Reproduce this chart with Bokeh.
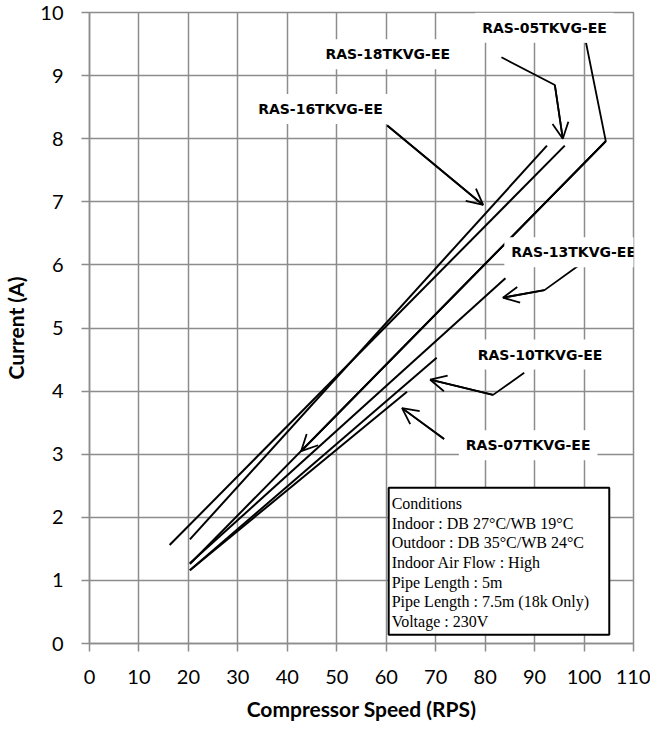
from bokeh.plotting import figure
from bokeh.models import Label, Arrow, OpenHead, BoxAnnotation, SingleIntervalTicker, Range1d
from bokeh.embed import file_html
from bokeh.resources import INLINE

# ---- data ----
models = ["RAS-18TKVG-EE", "RAS-16TKVG-EE", "RAS-05TKVG-EE",
          "RAS-13TKVG-EE", "RAS-10TKVG-EE", "RAS-07TKVG-EE"]
speed_start = [16.2, 20.3, 20.3, 20.3, 20.3, 20.3]
speed_end = [96.1, 92.5, 104.4, 84.1, 70.2, 64.2]
current_start = [1.56, 1.65, 1.26, 1.27, 1.16, 1.16]
current_end = [7.89, 7.89, 7.96, 5.79, 4.53, 3.99]

x_ticks_step = 10
y_ticks_step = 1

# label anchor points (data units) for each model name
label_x = [60.3, 46.7, 92.0, 97.9, 91.1, 88.7]
label_y = [9.34, 8.47, 9.76, 6.20, 4.58, 3.14]

# pointer polylines (data units), last segment carries the arrow head
pointer_x = [[83.3, 94.1, 95.7], [60.2, 79.6], [100.4, 104.4, 42.8],
             [98.7, 92.0, 83.6], [87.9, 81.6, 68.9], [71.7, 63.2]]
pointer_y = [[9.29, 8.85, 8.00], [8.21, 6.95], [9.52, 7.96, 3.05],
             [5.98, 5.60, 5.48], [4.29, 3.94, 4.18], [3.24, 3.73]]

conditions = ["Conditions",
              "Indoor : DB 27°C/WB 19°C",
              "Outdoor : DB 35°C/WB 24°C",
              "Indoor Air Flow : High",
              "Pipe Length : 5m",
              "Pipe Length : 7.5m (18k Only)",
              "Voltage : 230V"]

GRID = "#8c8c8c"

p = figure(width=650, height=727, x_range=Range1d(0, 110), y_range=Range1d(0, 10),
           output_backend="svg", toolbar_location=None,
           min_border_left=86, min_border_right=17, min_border_top=12, min_border_bottom=84)
p.background_fill_color = "white"
p.border_fill_color = "white"
p.outline_line_color = GRID
p.outline_line_width = 1.5

p.xaxis.ticker = SingleIntervalTicker(interval=x_ticks_step, num_minor_ticks=0)
p.yaxis.ticker = SingleIntervalTicker(interval=y_ticks_step, num_minor_ticks=0)
for ax in (p.xaxis, p.yaxis):
    ax.axis_line_color = GRID
    ax.axis_line_width = 1.5
    ax.major_tick_line_color = GRID
    ax.major_tick_line_width = 1.5
    ax.major_tick_in = 0
    ax.major_tick_out = 8
    ax.minor_tick_line_color = None
    ax.major_label_text_font = "Lato"
    ax.major_label_text_font_size = "20px"
    ax.major_label_text_color = "black"
    ax.axis_label_text_font = "Lato"
    ax.axis_label_text_font_style = "bold"
    ax.axis_label_text_font_size = "21px"
    ax.axis_label_text_color = "black"

p.xaxis.axis_label = "Compressor Speed (RPS)"
p.yaxis.axis_label = "Current (A)"
p.xaxis.major_label_standoff = 18
p.xaxis.axis_label_standoff = 9
p.yaxis.major_label_standoff = 18
p.yaxis.axis_label_standoff = 9

for g in (p.xgrid, p.ygrid):
    g.grid_line_color = GRID
    g.grid_line_width = 1.5

# data lines
for i in range(len(models)):
    p.line([speed_start[i], speed_end[i]], [current_start[i], current_end[i]],
           line_color="black", line_width=2)

# conditions box
p.add_layout(BoxAnnotation(left=60.5, right=105.1, bottom=0.14, top=2.47,
                           fill_color="white", fill_alpha=1.0,
                           line_color="black", line_width=2, line_alpha=1.0))
row_top = 2.217
row_step = 0.311
for k, t in enumerate(conditions):
    p.add_layout(Label(x=61.1, y=row_top - k * row_step, text=t,
                       text_font="Liberation Serif", text_font_size="16px",
                       text_align="left", text_baseline="middle", text_color="black"))

# pointers
for xs, ys in zip(pointer_x, pointer_y):
    p.line(xs, ys, line_color="black", line_width=1.8)
    p.add_layout(Arrow(x_start=xs[-2], y_start=ys[-2], x_end=xs[-1], y_end=ys[-1],
                       line_color="black", line_width=1.8,
                       end=OpenHead(size=16, line_color="black", line_width=1.8)))

# model labels
for name, lx, ly in zip(models, label_x, label_y):
    p.add_layout(Label(x=lx, y=ly, text=name, text_font="DejaVu Sans",
                       text_font_style="bold", text_font_size="14px",
                       text_align="center", text_baseline="middle", text_color="black",
                       background_fill_color="white", background_fill_alpha=1.0,
                       padding=7))

open("out.html", "w").write(file_html(p, INLINE))
